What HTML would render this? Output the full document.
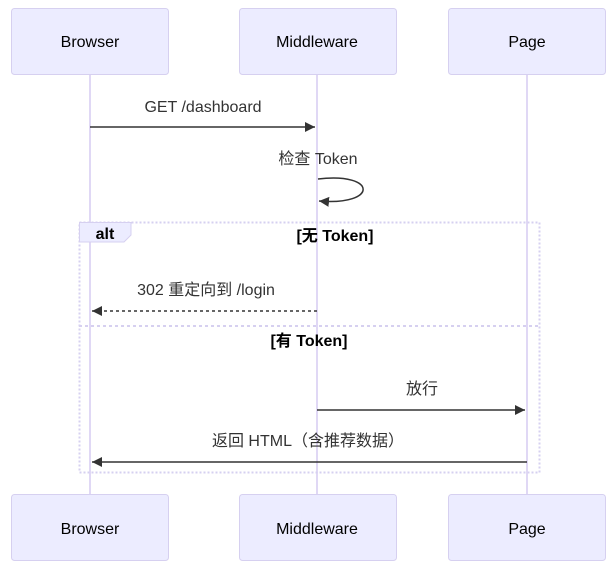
<!DOCTYPE html>
<html><head><meta charset="utf-8"><style>
body{margin:0;background:#fff}
text{font-family:"Liberation Sans","Noto Sans CJK SC",sans-serif;}
</style></head><body>
<svg width="616" height="573" viewBox="0 0 616 573" xmlns="http://www.w3.org/2000/svg">
<defs>
<marker id="ah" markerWidth="12" markerHeight="12" refX="10" refY="5" orient="auto" markerUnits="userSpaceOnUse"><path d="M0,0 L10,5 L0,10 z" fill="#333"/></marker>
</defs>
<g stroke="#e0d8f5" stroke-width="2">
<line x1="90" y1="75" x2="90" y2="494"/>
<line x1="317" y1="75" x2="317" y2="494"/>
<line x1="527" y1="75" x2="527" y2="494"/>
</g>
<g fill="#ECECFF" stroke="#d6d0f0" stroke-width="1">
<rect x="11.5" y="8.5" width="157" height="66" rx="3"/>
<rect x="239.5" y="8.5" width="157" height="66" rx="3"/>
<rect x="448.5" y="8.5" width="157" height="66" rx="3"/>
<rect x="11.5" y="494.5" width="157" height="66" rx="3"/>
<rect x="239.5" y="494.5" width="157" height="66" rx="3"/>
<rect x="448.5" y="494.5" width="157" height="66" rx="3"/>
</g>
<g font-size="16" fill="#000" text-anchor="middle">
<text x="90" y="47">Browser</text><text x="317" y="47">Middleware</text><text x="527" y="47">Page</text>
<text x="90" y="534">Browser</text><text x="317" y="534">Middleware</text><text x="527" y="534">Page</text>
</g>
<!-- alt box -->
<rect x="79.5" y="222.5" width="460" height="250" fill="none" stroke="#d6d0f0" stroke-width="2" stroke-dasharray="2,2"/>
<line x1="79" y1="326" x2="539" y2="326" stroke="#d6d0f0" stroke-width="2" stroke-dasharray="3,3"/>
<path d="M79.5,222.5 H131 V235 L124,242 H79.5 z" fill="#ECECFF" stroke="#d6d0f0"/>
<g font-size="16" fill="#000" text-anchor="middle" font-weight="bold">
<text x="105" y="239">alt</text>
<text x="335" y="241">[无 Token]</text>
<text x="309" y="346">[有 Token]</text>
</g>
<g font-size="16" fill="#333" text-anchor="middle">
<text x="203" y="112">GET /dashboard</text>
<text x="318" y="164">检查 Token</text>
<text x="206" y="295">302 重定向到 /login</text>
<text x="422" y="394">放行</text>
<text x="308" y="446">返回 HTML（含推荐数据）</text>
</g>
<g stroke="#333" stroke-width="1.5" fill="none">
<line x1="90" y1="127" x2="315" y2="127" marker-end="url(#ah)"/>
<path d="M318,179 C378,172 378,206 319,201" marker-end="url(#ah)"/>
<line x1="317" y1="311" x2="92" y2="311" stroke-dasharray="3,3" marker-end="url(#ah)"/>
<line x1="317" y1="410" x2="525" y2="410" marker-end="url(#ah)"/>
<line x1="527" y1="462" x2="92" y2="462" marker-end="url(#ah)"/>
</g>
</svg>
</body></html>
